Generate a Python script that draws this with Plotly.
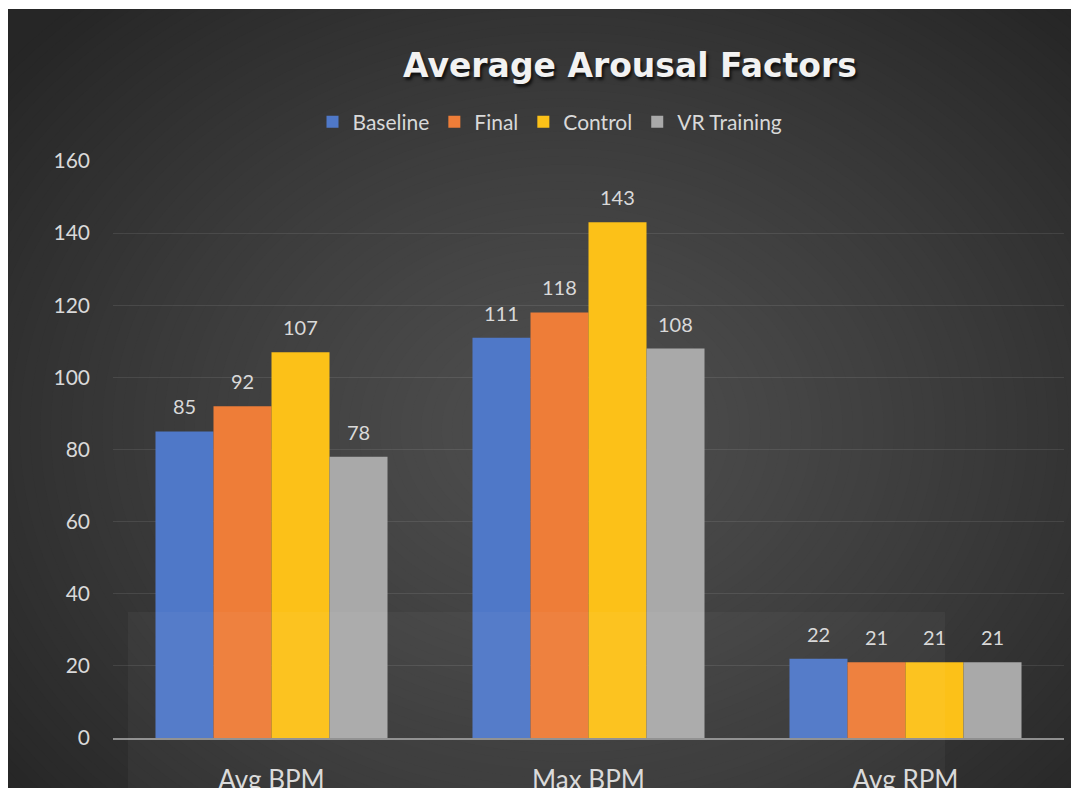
import plotly.graph_objects as go

categories = ["Avg BPM", "Max BPM", "Avg RPM"]
series_names = ["Baseline", "Final", "Control", "VR Training"]
baseline = [85, 111, 22]
final = [92, 118, 21]
control = [107, 143, 21]
vr_training = [78, 108, 21]
y_ticks = [0, 20, 40, 60, 80, 100, 120, 140, 160]

series_values = [baseline, final, control, vr_training]
colors = ["#4f78c8", "#ee7d38", "#fcc118", "#a9a9a9"]

W, H = 1071, 788
ML, MR, MT, MB = 113, 7, 161, 50
PW = W - ML - MR
PH = H - MT - MB


def px_x(px):
    return (px - ML) / PW


def px_y(py):
    return (H - MB - py) / PH


fig = go.Figure()
for name, vals, col in zip(series_names, series_values, colors):
    fig.add_trace(go.Bar(
        x=categories, y=vals, name=name,
        marker=dict(color=col, line=dict(width=0)),
    ))

# data labels above bars
offsets = [-87, -29, 29, 87]
annotations = []
for vals, off in zip(series_values, offsets):
    for c, v in zip(categories, vals):
        annotations.append(dict(
            x=c, y=v, xref="x", yref="y", text=str(v), showarrow=False,
            xshift=off, yshift=25, yanchor="middle",
            font=dict(family="Lato", size=20, color="#d9d9d9"),
        ))

# background: white margin + radial gradient
shapes = [dict(type="rect", xref="paper", yref="paper",
               x0=px_x(8), x1=px_x(W + 5), y0=px_y(9), y1=px_y(H + 5),
               fillcolor="#262626", line=dict(width=0), layer="below")]
cx, cy = 565, 430
rx, ry = 720, 580
N = 70
c_out, c_in = 0x26, 0x4e
for i in range(N):
    t = 1 - i / N
    lvl = c_in - (c_in - c_out) * (t ** 1.25)
    g = int(round(lvl))
    col = f"rgb({g},{g},{g})"
    shapes.append(dict(type="circle", xref="paper", yref="paper",
                       x0=px_x(cx - rx * t), x1=px_x(cx + rx * t),
                       y0=px_y(cy + ry * t), y1=px_y(cy - ry * t),
                       fillcolor=col, line=dict(width=0), layer="below"))
# restore the white margin strips (ellipses spill into them)
shapes.append(dict(type="rect", xref="paper", yref="paper",
                   x0=px_x(-20), x1=px_x(8), y0=px_y(-20), y1=px_y(H + 20),
                   fillcolor="white", line=dict(width=0), layer="below"))
shapes.append(dict(type="rect", xref="paper", yref="paper",
                   x0=px_x(-20), x1=px_x(W + 20), y0=px_y(-20), y1=px_y(9),
                   fillcolor="white", line=dict(width=0), layer="below"))
# faint scanned watermark panel
shapes.append(dict(type="rect", xref="paper", yref="paper",
                   x0=px_x(128), x1=px_x(945), y0=px_y(612), y1=px_y(H + 5),
                   fillcolor="rgba(255,255,255,0.035)", line=dict(width=0),
                   layer="above"))

fig.update_layout(
    width=W, height=H,
    margin=dict(l=ML, r=MR, t=MT, b=MB, autoexpand=False),
    paper_bgcolor="white",
    plot_bgcolor="rgba(0,0,0,0)",
    barmode="group", bargap=0.268, bargroupgap=0,
    title=dict(text="<b>Average Arousal Factors</b>",
               x=630 / W, xanchor="center", xref="container",
               y=1 - 65 / H, yanchor="middle", yref="container",
               font=dict(family="DejaVu Sans", size=33, color="#f2f2f2",
                         shadow="2px 3px 3px rgba(0,0,0,0.7)")),
    legend=dict(orientation="h", xref="container", yref="container",
                x=550 / W, xanchor="center", y=1 - 122 / H, yanchor="middle",
                font=dict(family="Lato", size=21, color="#d9d9d9"),
                bgcolor="rgba(0,0,0,0)", itemsizing="constant",
                traceorder="normal", itemwidth=30),
    xaxis=dict(showgrid=False, showline=True, linecolor="#8f8f8f",
               linewidth=2, ticks="", ticklabelstandoff=18, automargin=False,
               tickfont=dict(family="Lato", size=26, color="#d9d9d9")),
    yaxis=dict(range=[0, 160], tickvals=y_ticks, showgrid=True,
               gridcolor="rgba(255,255,255,0.09)", gridwidth=1.3,
               zeroline=False, showline=False, ticks="", automargin=False,
               ticklabelstandoff=22,
               tickfont=dict(family="Lato", size=21, color="#d9d9d9")),
    shapes=shapes,
    annotations=annotations,
)

fig.write_html("out.html")
